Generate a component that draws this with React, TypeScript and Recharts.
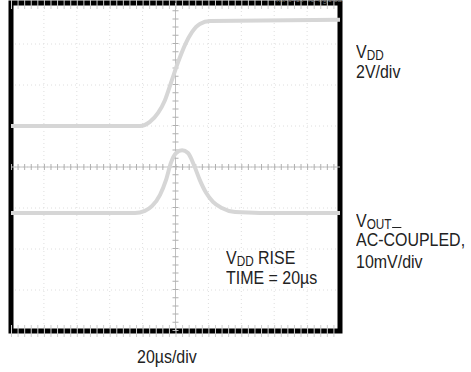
import { CartesianGrid, Line, LineChart, ReferenceArea, ReferenceLine, XAxis, YAxis } from "recharts"

// time axis in divisions (20us/div), level in divisions
const vddTime = [0, 3.92, 4.22, 4.47, 4.68, 4.89, 5.08, 5.29, 5.5, 5.74, 6.05, 10]
const vddLevel = [5.0, 5.0, 5.1, 5.32, 5.63, 6.12, 6.56, 6.98, 7.29, 7.49, 7.56, 7.59]

const voutTime = [0, 3.77, 4.07, 4.29, 4.53, 4.71, 4.86, 5.02, 5.2, 5.38, 5.56, 5.74, 5.93, 6.14, 6.41, 6.81, 7.57, 10]
const voutLevel = [2.88, 2.88, 2.93, 3.05, 3.32, 3.68, 4.1, 4.34, 4.41, 4.34, 4.05, 3.68, 3.37, 3.15, 3.0, 2.9, 2.88, 2.88]

const xDivs = [0, 1, 2, 3, 4, 5, 6, 7, 8, 9, 10]
const yDivs = [0, 1, 2, 3, 4, 5, 6, 7, 8]

const vdd = vddTime.map((t, i) => ({ t, v: vddLevel[i] }))
const vout = voutTime.map((t, i) => ({ t, v: voutLevel[i] }))

const font = "'Liberation Sans', Arial, sans-serif"
const trace = "#d6d6d6"

// condensed sans: regular face squeezed horizontally
function Label({ x, y, children }: { x: number; y: number; children: any }) {
  return (
    <div
      style={{
        position: "absolute",
        left: x,
        top: y,
        fontSize: 19,
        lineHeight: "16px",
        height: 16,
        color: "#222",
        whiteSpace: "nowrap",
        transform: "scaleX(0.84)",
        transformOrigin: "0 0",
      }}
    >
      {children}
    </div>
  )
}

function Sub({ children }: { children: any }) {
  return <span style={{ fontSize: 14, position: "relative", top: 2 }}>{children}</span>
}

export default function App() {
  return (
    <div style={{ position: "absolute", left: 0, top: 0, width: 471, height: 372, fontFamily: font, background: "#fff", overflow: "hidden" }}>
      <LineChart width={471} height={372} margin={{ top: 3, right: 131, bottom: 41, left: 11 }}>
        <XAxis type="number" dataKey="t" domain={[0, 10]} ticks={xDivs} hide allowDataOverflow />
        <YAxis type="number" dataKey="v" domain={[0, 8]} ticks={yDivs} hide allowDataOverflow />
        <CartesianGrid stroke="#dedede" strokeDasharray="1 3" />
        {/* center graticule with minor ticks */}
        <ReferenceLine x={5} stroke="#c0c0c0" strokeWidth={1} />
        <ReferenceLine x={5} stroke="#b0b0b0" strokeWidth={6} strokeDasharray="1 7.2" />
        <ReferenceLine y={4} stroke="#c0c0c0" strokeWidth={1} />
        <ReferenceLine y={4} stroke="#b0b0b0" strokeWidth={6} strokeDasharray="1 5.58" />
        <ReferenceLine y={0} stroke="#cccccc" strokeWidth={12} strokeDasharray="1 5.58" />
        <ReferenceLine y={8} stroke="#cccccc" strokeWidth={12} strokeDasharray="1 5.58" />
        <Line data={vdd} dataKey="v" type="monotone" stroke={trace} strokeWidth={4} dot={false} isAnimationActive={false} />
        <Line data={vout} dataKey="v" type="monotone" stroke={trace} strokeWidth={4} dot={false} isAnimationActive={false} />
        <ReferenceArea x1={0} x2={10} y1={0} y2={8} fill="none" stroke="#000" strokeWidth={5} ifOverflow="visible" />
      </LineChart>
      <div style={{ position: "absolute", left: 276, top: -7, fontSize: 10, color: "#666", transform: "scaleX(0.9)", transformOrigin: "0 0" }}>
        MAX5741 fig02b
      </div>
      <Label x={356} y={44}>
        V<Sub>DD</Sub>
      </Label>
      <Label x={356} y={64}>2V/div</Label>
      <Label x={356} y={213}>
        V<Sub>OUT</Sub>
        <span style={{ display: "inline-block", width: 11, marginLeft: 1, borderBottom: "1.5px solid #222", position: "relative", top: 1 }} />
      </Label>
      <Label x={356} y={232}>AC-COUPLED,</Label>
      <Label x={356} y={254}>10mV/div</Label>
      <Label x={226} y={250}>
        V<Sub>DD</Sub> RISE
      </Label>
      <Label x={226} y={270}>TIME = 20µs</Label>
      <Label x={137} y={349}>20µs/div</Label>
    </div>
  )
}
